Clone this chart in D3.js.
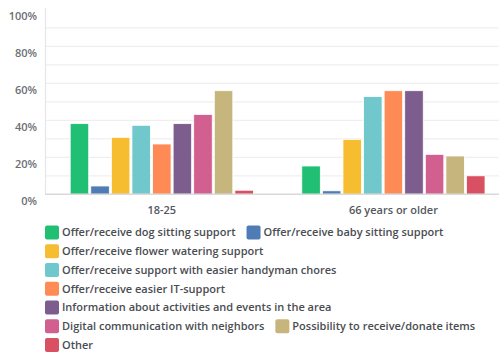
<!DOCTYPE html>
<html>
<head>
<meta charset="utf-8">
<script src="https://cdn.jsdelivr.net/npm/d3@7"></script>
<style>
  html, body { margin: 0; padding: 0; background: #fff; }
  svg { display: block; font-family: "Open Sans", sans-serif; }
</style>
</head>
<body>
<svg id="chart" width="499" height="352"></svg>
<script>
// Age groups along the x axis
const groups = ["18-25", "66 years or older"];

// Answer options (one bar each per age group)
const options = [
  "Offer/receive dog sitting support",
  "Offer/receive baby sitting support",
  "Offer/receive flower watering support",
  "Offer/receive support with easier handyman chores",
  "Offer/receive easier IT-support",
  "Information about activities and events in the area",
  "Digital communication with neighbors",
  "Possibility to receive/donate items",
  "Other"
];

// Share of respondents (%) per option, by age group
const values1825 = [38.2, 4.5, 30.8, 37.3, 27.2, 38.2, 43.2, 56.0, 2.2];
const values66 = [15.3, 1.9, 29.7, 52.8, 56.0, 56.0, 21.6, 20.7, 10.0];

const colors = ["#21bf73", "#507cb6", "#f7bd30", "#70c8cc", "#fe8b56",
                "#7d5d8e", "#d15f90", "#c6b67d", "#da5063"];

const yTicks = [0, 20, 40, 60, 80, 100];
const yGrid = [10, 20, 30, 40, 50, 60, 70, 80, 90];

const svg = d3.select("#chart");

const x0 = d3.scaleBand().domain(groups).range([46, 509.2])
  .paddingInner(0.2).paddingOuter(0.1);
const x1 = d3.scaleBand().domain(options).range([0, x0.bandwidth()])
  .paddingInner(0.1).paddingOuter(0.05);
const y = d3.scaleLinear().domain([0, 100]).range([194.3, 9.3]);

// Horizontal gridlines
svg.append("g").selectAll("line").data(yGrid).join("line")
  .attr("x1", 46).attr("x2", 499)
  .attr("y1", d => y(d)).attr("y2", d => y(d))
  .attr("stroke", "#efefef").attr("stroke-width", 1.2);

// Y axis labels
const yAxis = d3.axisLeft(y).tickValues(yTicks).tickFormat(d => d + "%").tickSize(0).tickPadding(9);
const ya = svg.append("g").attr("transform", "translate(46,0)").call(yAxis);
ya.select(".domain").remove();
ya.selectAll("text")
  .attr("dy", "0.95em")
  .attr("font-family", "Open Sans, sans-serif")
  .attr("font-size", 11).attr("font-weight", 600).attr("fill", "#6b6e73");

// Bars
const rows = groups.map((g, gi) => ({ group: g, vals: gi === 0 ? values1825 : values66 }));
svg.append("g").selectAll("g").data(rows).join("g")
  .attr("transform", d => `translate(${x0(d.group)},0)`)
  .selectAll("rect").data(d => d.vals.map((v, i) => ({ opt: options[i], v, i })))
  .join("rect")
  .attr("x", d => x1(d.opt))
  .attr("width", x1.bandwidth())
  .attr("y", d => y(d.v))
  .attr("height", d => y(0) - y(d.v))
  .attr("fill", d => colors[d.i])
  .attr("stroke", "#fff").attr("stroke-width", 0.8);

// Axis lines
svg.append("line").attr("x1", 45.5).attr("x2", 45.5).attr("y1", 8).attr("y2", y(0))
  .attr("stroke", "#e6e6e6").attr("stroke-width", 1.2);
svg.append("line").attr("x1", 45).attr("x2", 499).attr("y1", y(0)).attr("y2", y(0))
  .attr("stroke", "#d9d9d9").attr("stroke-width", 1.5);

// Group labels
const xAxis = d3.axisBottom(x0).tickSize(0).tickPadding(12);
const xa = svg.append("g").attr("transform", `translate(0,${y(0)})`).call(xAxis);
xa.select(".domain").remove();
xa.selectAll("text")
  .attr("font-family", "Open Sans, sans-serif")
  .attr("font-size", 11).attr("font-weight", 600).attr("fill", "#55585d");

// Legend, flowing items into rows
const legend = svg.append("g");
const legLeft = 45, legRight = 485, rowH = 18.75, firstRow = 232.5;
let cx = legLeft, row = 0;
options.forEach((opt, i) => {
  const item = legend.append("g");
  item.append("rect").attr("width", 14).attr("height", 14).attr("rx", 2)
    .attr("fill", colors[i]);
  const t = item.append("text").text(opt)
    .attr("x", 17).attr("y", 7).attr("dy", "0.35em")
    .attr("font-family", "Open Sans, sans-serif")
    .attr("font-size", 11).attr("font-weight", 600).attr("fill", "#4a4d52");
  const w = 17 + t.node().getComputedTextLength();
  if (cx > legLeft && cx + w > legRight) { row++; cx = legLeft; }
  item.attr("transform", `translate(${cx},${firstRow + row * rowH - 7})`);
  cx += w + 11;
});
</script>
</body>
</html>
